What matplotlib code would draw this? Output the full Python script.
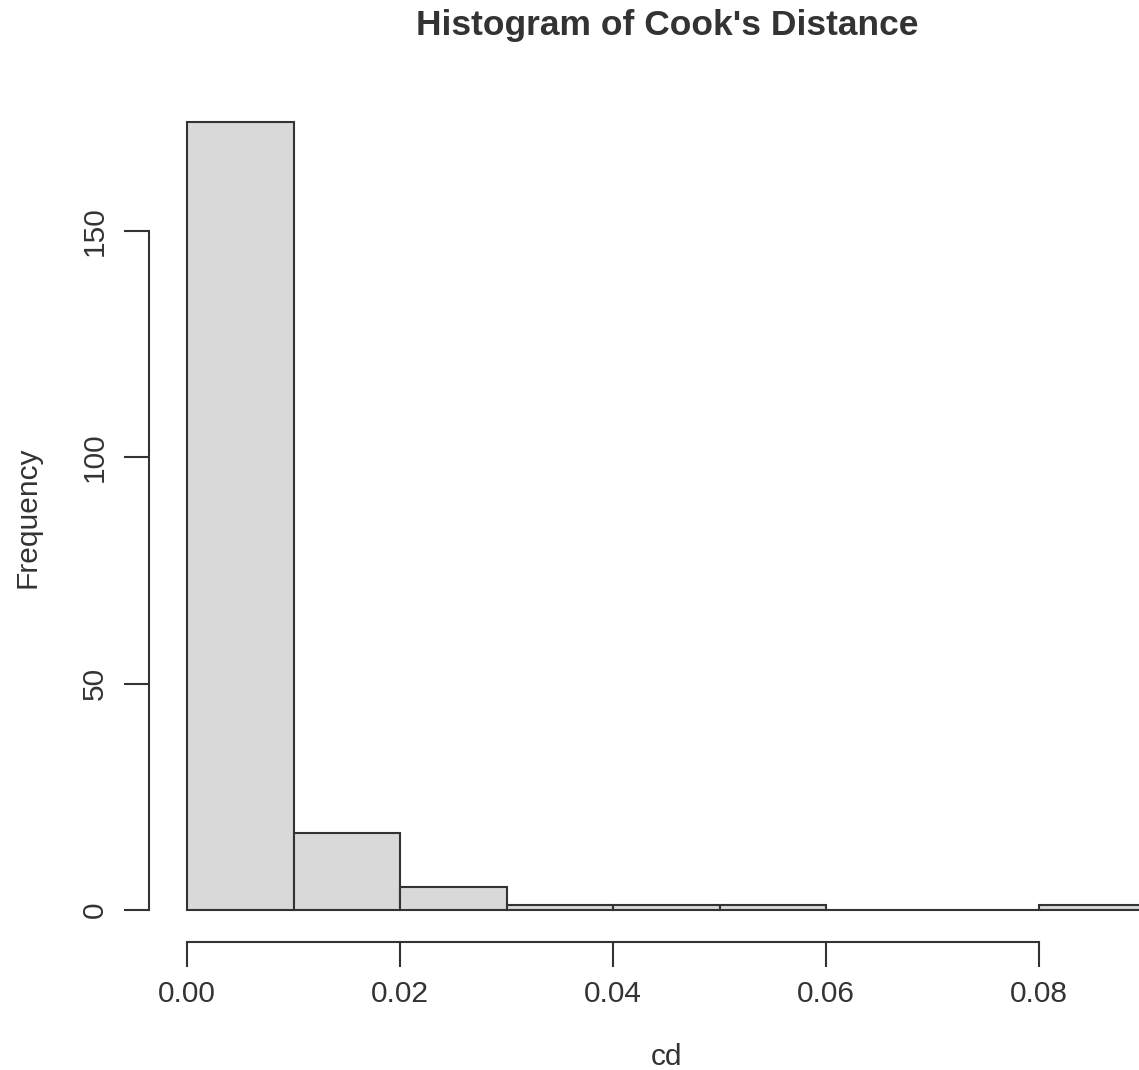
import matplotlib
matplotlib.use("Agg")
import matplotlib.pyplot as plt

bin_edges = [0.00, 0.01, 0.02, 0.03, 0.04, 0.05, 0.06, 0.07, 0.08, 0.09]
counts = [174, 17, 5, 1, 1, 1, 0, 0, 1]
x_ticks = [0.00, 0.02, 0.04, 0.06, 0.08]
x_ticklabels = ["0.00", "0.02", "0.04", "0.06", "0.08"]
y_ticks = [0, 50, 100, 150]
y_ticklabels = ["0", "50", "100", "150"]

ink = "#333333"
plt.rcParams['font.family'] = ['Liberation Sans', 'DejaVu Sans']

fig = plt.figure(figsize=(11.39, 10.70), dpi=100)
W, H = 1139, 1070
left_px, right_px = 148.7, 1184.0
bottom_px, top_px = 941.5, 90.8
ax = fig.add_axes([left_px / W, 1 - bottom_px / H,
                   (right_px - left_px) / W, (bottom_px - top_px) / H])

lefts = bin_edges[:-1]
widths = [b - a for a, b in zip(bin_edges[:-1], bin_edges[1:])]
ax.bar(lefts, counts, width=widths, align='edge', color='#D9D9D9',
       edgecolor=ink, linewidth=1.5, clip_on=False)

xr = bin_edges[-1] - bin_edges[0]
ax.set_xlim(bin_edges[0] - 0.04 * xr, bin_edges[-1] + 0.04 * xr)
yr = max(counts)
ax.set_ylim(-0.04 * yr, yr * 1.04)

for s in ['top', 'right']:
    ax.spines[s].set_visible(False)
ax.spines['left'].set_bounds(0, 150)
ax.spines['bottom'].set_bounds(0, 0.08)
for s in ['left', 'bottom']:
    ax.spines[s].set_color(ink)
    ax.spines[s].set_linewidth(1.5)

ax.set_xticks(x_ticks)
ax.set_xticklabels(x_ticklabels)
ax.set_yticks(y_ticks)
ax.set_yticklabels(y_ticklabels, rotation=90, va='center')
ax.tick_params(axis='both', length=18, width=1.5, color=ink,
               labelcolor=ink, labelsize=21.5)
ax.tick_params(axis='x', pad=10)
ax.tick_params(axis='y', pad=10.5)

fig.text(667 / W, 1 - 25 / H, "Histogram of Cook's Distance", ha='center',
         va='center', fontsize=25.5, fontweight='bold', color=ink)
fig.text(667 / W, 1 - 1057 / H, "cd", ha='center', va='center',
         fontsize=21.5, color=ink)
fig.text(27 / W, 1 - 517 / H, "Frequency", ha='center', va='center',
         rotation=90, fontsize=21.5, color=ink)

fig.savefig("out.png", dpi=100)
